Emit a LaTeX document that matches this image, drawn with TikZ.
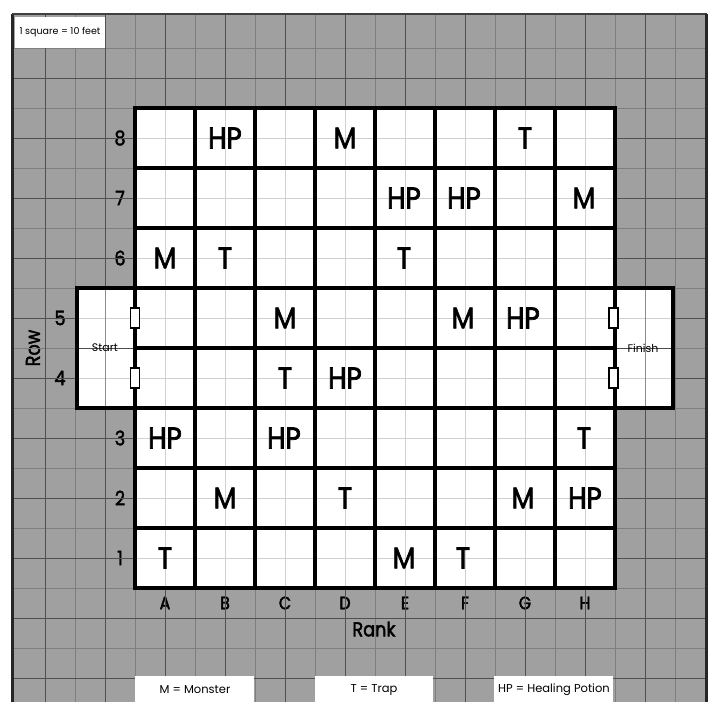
\documentclass[tikz,border=0pt]{standalone}
\usepackage{fontspec}
\setmainfont{Poppins}
\newfontfamily\medfont{Poppins}[FakeBold=2.2,FakeStretch=0.88]
\newfontfamily\numfont{Poppins}[FakeBold=2,FakeStretch=0.88]
\definecolor{bggray}{HTML}{A0A0A0}
\definecolor{minorc}{HTML}{7E7E7E}
\definecolor{majorc}{HTML}{505050}
\definecolor{lightc}{HTML}{D0D0D0}
\begin{document}
\begin{tikzpicture}[x=1pt,y=-1pt,
  minor/.style={draw=minorc,line width=0.7pt},
  major/.style={draw=majorc,line width=0.9pt},
  faint/.style={draw=lightc,line width=0.7pt},
  boardline/.style={draw=black,line width=4pt,line cap=rect},
  door/.style={draw=black,fill=white,line width=1.3pt,minimum width=9pt,minimum height=20pt,inner sep=0pt},
  piece/.style={font=\medfont\fontsize{30}{30}\selectfont,inner sep=0pt},
  rownum/.style={font=\numfont\fontsize{20}{20}\selectfont,inner sep=0pt},
  collabel/.style={font=\medfont\fontsize{18}{18}\selectfont,inner sep=0pt},
  axislabel/.style={font=\medfont\fontsize{20}{20}\selectfont,inner sep=0pt},
  smalltxt/.style={font=\fontsize{11}{11}\selectfont,inner sep=0pt},
  legendtxt/.style={font=\fontsize{11.5}{11.5}\selectfont,inner sep=0pt},
  whitebox/.style={fill=white}]
\useasboundingbox (0,0) rectangle (713,702);
\fill[white] (0,0) rectangle (713,702);
\fill[bggray] (12,14) rectangle (707,702);
% labels on the gray area (under the grid)
\node[rownum] (n8) at (120,138) {8};
\node[rownum] (n7) at (120,198) {7};
\node[rownum] (n6) at (120,258) {6};
\node[rownum] (n5) at (60,318) {5};
\node[rownum] (n4) at (60,378) {4};
\node[rownum] (n3) at (120,438) {3};
\node[rownum] (n2) at (120,498) {2};
\node[rownum] (n1) at (120,558) {1};
\node[axislabel,rotate=90] (rowlab) at (33,348) {Row};
\foreach \c [count=\i from 0] in {A,B,C,D,E,F,G,H}
  \node[collabel] (col\c) at (165+60*\i,603) {\c};
\node[axislabel] (ranklab) at (374,629) {Rank};
% background grid
\foreach \x in {45,75,...,675} \draw[minor] (\x,14) -- (\x,702);
\foreach \y in {48,78,...,678} \draw[minor] (12,\y) -- (707,\y);
\foreach \x in {45,105,...,645} \draw[major] (\x,14) -- (\x,702);
\foreach \y in {78,138,...,678} \draw[major] (12,\y) -- (707,\y);
% borders
\draw[draw=black!85,line width=3pt] (12.5,14) -- (12.5,702);
\draw[draw=black!75,line width=2pt] (12,14) -- (707,14);
\draw[draw=black!85,line width=3pt] (706,14) -- (706,702);
% white areas
\fill[white] (135,108) rectangle (615,588);
\fill[white] (77,288) rectangle (135,408);
\fill[white] (615,288) rectangle (673,408);
% faint grid on white
\foreach \x in {165,225,...,585} \draw[faint] (\x,108) -- (\x,588);
\foreach \y in {138,198,...,558} \draw[faint] (135,\y) -- (615,\y);
\foreach \y in {318,378} {\draw[faint] (77,\y) -- (135,\y); \draw[faint] (615,\y) -- (673,\y);}
\draw[draw=black!45,line width=0.8pt] (105,288) -- (105,408);
\draw[draw=black!45,line width=0.8pt] (645,288) -- (645,408);
\draw[draw=black!70,line width=0.8pt] (77,348) -- (135,348);
\draw[draw=black!70,line width=0.8pt] (615,348) -- (673,348);
% start / finish
\node[smalltxt] (start) at (105,348) {Start};
\node[smalltxt] (finish) at (643,348) {Finish};
% pieces
\node[piece] (b8) at (225,138) {HP};
\node[piece] (d8) at (345,138) {M};
\node[piece] (g8) at (525,138) {T};
\node[piece] (e7) at (404,198) {HP};
\node[piece] (f7) at (464,198) {HP};
\node[piece] (h7) at (584,198) {M};
\node[piece] (a6) at (165,258) {M};
\node[piece] (b6) at (225,258) {T};
\node[piece] (e6) at (404,258) {T};
\node[piece] (c5) at (285,318) {M};
\node[piece] (f5) at (463,318) {M};
\node[piece] (g5) at (523,318) {HP};
\node[piece] (c4) at (285,378) {T};
\node[piece] (d4p) at (345,378) {HP};
\node[piece] (a3) at (165,438) {HP};
\node[piece] (c3) at (284,438) {HP};
\node[piece] (h3) at (584,438) {T};
\node[piece] (b2) at (225,498) {M};
\node[piece] (d2p) at (345,498) {T};
\node[piece] (g2) at (523,498) {M};
\node[piece] (h2) at (585,498) {HP};
\node[piece] (a1) at (165,558) {T};
\node[piece] (e1) at (404,558) {M};
\node[piece] (f1) at (463,558) {T};
% board lines
\foreach \x in {135,195,...,615} \draw[boardline] (\x,108) -- (\x,588);
\foreach \y in {108,168,...,588} \draw[boardline] (135,\y) -- (615,\y);
\draw[boardline] (77,288) rectangle (135,408);
\draw[boardline] (615,288) rectangle (673,408);
% doors
\node[door] (d1) at (135,318) {};
\node[door] (d2) at (135,378) {};
\node[door] (d3) at (613.5,318) {};
\node[door] (d4) at (613.5,378) {};
% scale box
\node[whitebox,minimum width=90pt,minimum height=31pt,inner sep=0pt] (scale) at (60,32.5) {};
\node[smalltxt,font=\fontsize{9.5}{9.5}\selectfont] (scaletxt) at (scale.center) {1 square = 10 feet};
% legend
\fill[white] (135,676) rectangle (254,702);
\fill[white] (315,676) rectangle (433,702);
\fill[white] (494,676) rectangle (613,702);
\node[legendtxt] (lm) at (195,690) {M = Monster};
\node[legendtxt] (lt) at (374,690) {T = Trap};
\node[legendtxt] (lhp) at (554,690) {HP = Healing Potion};
\end{tikzpicture}
\end{document}
